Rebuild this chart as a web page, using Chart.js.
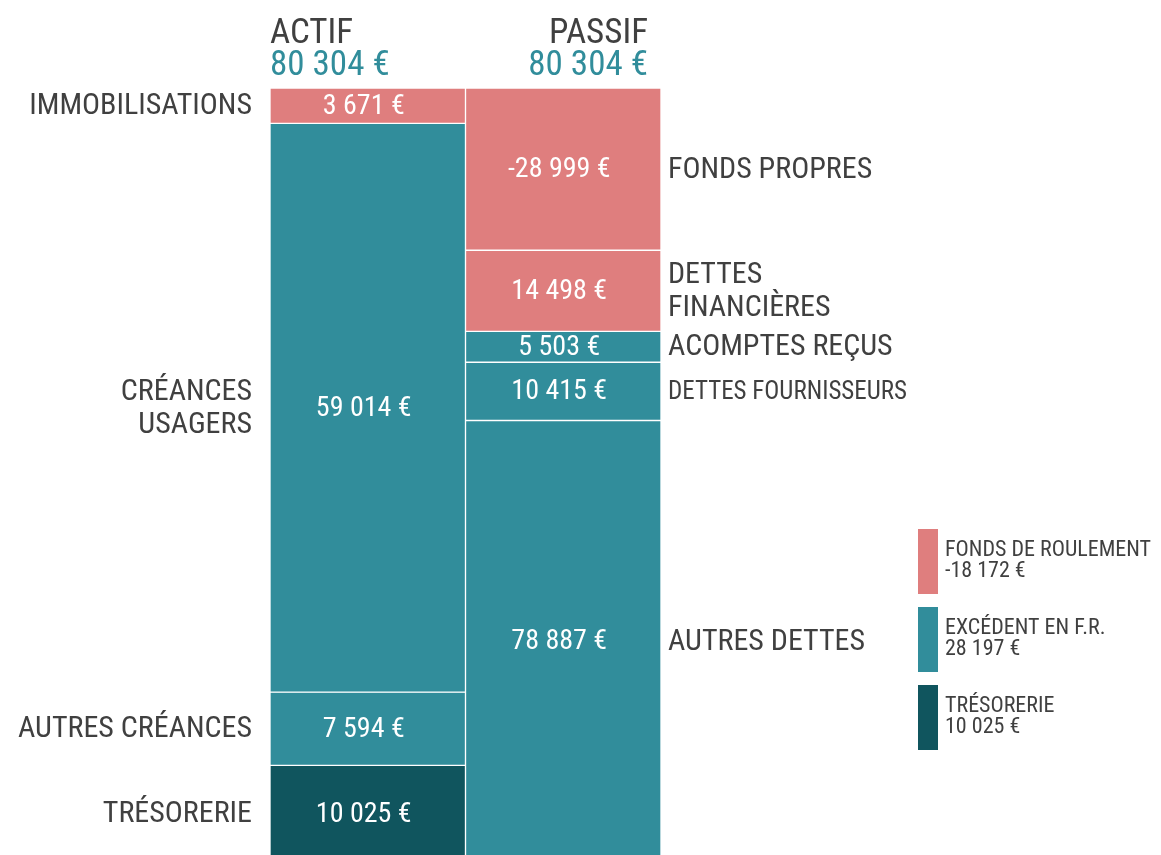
<!DOCTYPE html>
<html>
<head>
<meta charset="utf-8">
<script src="https://cdn.jsdelivr.net/npm/chart.js@4.4.1/dist/chart.umd.min.js"></script>
<style>
  html, body { margin: 0; padding: 0; background: #fff; overflow: hidden; }
  #wrap { width: 1161px; height: 855px; position: relative; overflow: hidden; }
</style>
</head>
<body>
<div id="wrap"><canvas id="c" width="1161" height="862"></canvas></div>
<script>
// data
var columns = ["ACTIF", "PASSIF"];
var actifLabels = ["IMMOBILISATIONS", "CRÉANCES\nUSAGERS", "AUTRES CRÉANCES", "TRÉSORERIE"];
var actifValues = [3671, 59014, 7594, 10025];
var passifLabels = ["FONDS PROPRES", "DETTES\nFINANCIÈRES", "ACOMPTES REÇUS", "DETTES FOURNISSEURS", "AUTRES DETTES"];
var passifValues = [-28999, 14498, 5503, 10415, 78887];
var legendLabels = ["FONDS DE ROULEMENT", "EXCÉDENT EN F.R.", "TRÉSORERIE"];
var legendValues = [-18172, 28197, 10025];

var PINK = "#df7e7e", TEAL = "#318d9b", DARK = "#10555e", GREY = "#404040";
var actifColors = [PINK, TEAL, TEAL, DARK];
var passifColors = [PINK, PINK, TEAL, TEAL, TEAL];
var legendColors = [PINK, TEAL, DARK];
var FONT = "'Roboto Condensed', 'Liberation Sans Narrow', 'Arial Narrow', sans-serif";

function fmt(v) {
  var s = Math.abs(v).toString().replace(/\B(?=(\d{3})+(?!\d))/g, " ");
  return (v < 0 ? "-" : "") + s + " €";
}
function sum(a) { return a.reduce(function(s, v) { return s + v; }, 0); }
function absSum(a) { return a.reduce(function(s, v) { return s + Math.abs(v); }, 0); }

// each column is scaled on the sum of absolute values
var actifAbs = absSum(actifValues), passifAbs = absSum(passifValues);
var datasets = [];
actifValues.forEach(function(v, i) {
  datasets.push({ side: 0, idx: i, raw: v, data: [Math.abs(v) / actifAbs * 100, null],
    backgroundColor: actifColors[i] });
});
passifValues.forEach(function(v, i) {
  datasets.push({ side: 1, idx: i, raw: v, data: [null, Math.abs(v) / passifAbs * 100],
    backgroundColor: passifColors[i] });
});
datasets.forEach(function(d) {
  d.borderColor = "#ffffff"; d.borderWidth = 1; d.borderSkipped = false;
  d.categoryPercentage = 1; d.barPercentage = 1;
});

function drawLines(ctx, lines, x, cy, lh) {
  var y0 = cy - (lines.length - 1) * lh / 2;
  lines.forEach(function(l, k) { ctx.fillText(l, x, y0 + k * lh); });
}

var bilanLabels = {
  id: "bilanLabels",
  afterDatasetsDraw: function(chart) {
    var ctx = chart.ctx, area = chart.chartArea;
    ctx.save();
    ctx.textBaseline = "middle";
    chart.data.datasets.forEach(function(ds, di) {
      var el = chart.getDatasetMeta(di).data[ds.side];
      var cy = (el.y + el.base) / 2;
      // value inside the segment
      ctx.fillStyle = "#ffffff";
      ctx.font = "28px " + FONT;
      ctx.textAlign = "center";
      ctx.fillText(fmt(ds.raw), el.x - 4, cy + 1);
      // category beside the column
      ctx.fillStyle = GREY;
      var name = ds.side === 0 ? actifLabels[ds.idx] : passifLabels[ds.idx];
      ctx.font = (name === "DETTES FOURNISSEURS" ? "25px " : "30px ") + FONT;
      if (ds.side === 0) {
        ctx.textAlign = "right";
        drawLines(ctx, name.split("\n"), el.x - el.width / 2 - 18, cy + 1, 33);
      } else {
        ctx.textAlign = "left";
        drawLines(ctx, name.split("\n"), el.x + el.width / 2 + 7, cy + 1, 33);
      }
    });

    // column headers
    ctx.textBaseline = "alphabetic";
    ctx.font = "35px " + FONT;
    var totals = [sum(actifValues), sum(passifValues)];
    ctx.textAlign = "left";
    ctx.fillStyle = GREY; ctx.fillText(columns[0], area.left, 43);
    ctx.fillStyle = TEAL; ctx.fillText(fmt(totals[0]), area.left, 75);
    ctx.textAlign = "right";
    ctx.fillStyle = GREY; ctx.fillText(columns[1], area.right - 13, 43);
    ctx.fillStyle = TEAL; ctx.fillText(fmt(totals[1]), area.right - 13, 75);

    // legend
    ctx.textAlign = "left";
    ctx.font = "22px " + FONT;
    legendLabels.forEach(function(l, i) {
      var y = 529 + i * 78;
      ctx.fillStyle = legendColors[i];
      ctx.fillRect(918, y, 20, 65);
      ctx.fillStyle = GREY;
      ctx.fillText(l, 945, y + 27);
      ctx.fillText(fmt(legendValues[i]), 945, y + 48);
    });
    ctx.restore();
  }
};

new Chart(document.getElementById("c"), {
  type: "bar",
  data: { labels: columns, datasets: datasets },
  options: {
    responsive: false,
    animation: false,
    maintainAspectRatio: false,
    layout: { padding: { left: 270, right: 500, top: 88, bottom: 0 } },
    plugins: { legend: { display: false }, tooltip: { enabled: false } },
    scales: {
      x: { stacked: true, display: false },
      y: { stacked: true, display: false, reverse: true, min: 0, max: 100 }
    }
  },
  plugins: [bilanLabels]
});
</script>
</body>
</html>
